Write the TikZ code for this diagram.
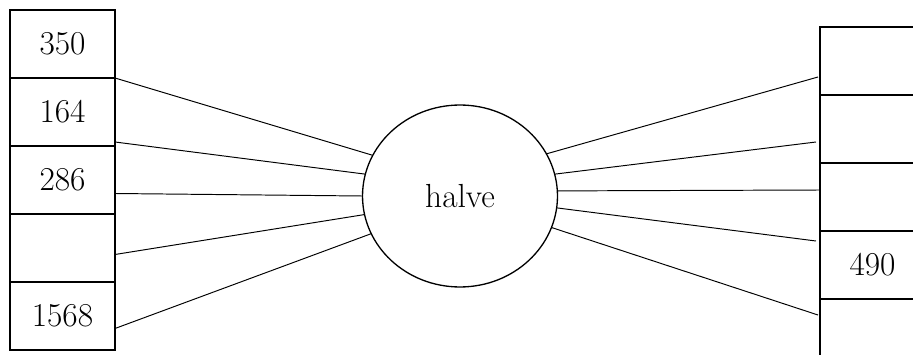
\documentclass[tikz,border=0pt]{standalone}
\usetikzlibrary{shapes.geometric}

\tikzset{
  cell/.style={draw, line width=0.75pt, minimum width=2.1cm, minimum height=1.36cm,
    inner sep=0pt, outer sep=0pt, font=\fontsize{19}{22}\selectfont},
  func/.style={draw, ellipse, line width=0.75pt, minimum width=3.9cm, minimum height=3.64cm,
    inner sep=0pt, outer sep=0pt, font=\fontsize{19}{22}\selectfont},
  wire/.style={line width=0.55pt}
}

\begin{document}
\begin{tikzpicture}[x=0.02cm, y=-0.02cm]
    \useasboundingbox (0,0) rectangle (913,355);
    \clip (0,0) rectangle (913,355);
    % linke Spalte:
    \node[cell] (l1) at (62.5,44) {350};
    \node[cell] (l2) at (62.5,112) {164};
    \node[cell] (l3) at (62.5,180) {286};
    \node[cell] (l4) at (62.5,248) {};
    \node[cell] (l5) at (62.5,316) {1568};
    % Funktion:
    \node[func] (halve) at (460,196) {halve};
    % rechte Spalte:
    \node[cell] (r1) at (872.5,61) {};
    \node[cell] (r2) at (872.5,129) {};
    \node[cell] (r3) at (872.5,197) {};
    \node[cell] (r4) at (872.5,265) {};
    \node[cell] (r5) at (872.5,333) {};
    \node[font=\fontsize{19}{22}\selectfont] (out) at (r4.center) {490};
    % Eingaenge:
\draw[wire] (l1.south east) -- (halve.155);
\draw[wire] ([yshift=0.08cm]l2.south east) -- (halve.167);
\draw[wire] ([yshift=-0.27cm]l3.east) -- (halve.180);
\draw[wire] ([yshift=-0.13cm]l4.east) -- (halve.191);
\draw[wire] ([yshift=-0.25cm]l5.east) -- (halve.203);
    % Ausgaenge:
\draw[wire] (halve.26) -- ([xshift=-0.04cm, yshift=-0.32cm]r1.west);
\draw[wire] (halve.13) -- ([xshift=-0.08cm, yshift=-0.26cm]r2.west);
\draw[wire] (halve.3) -- ([yshift=0.14cm]r3.west);
\draw[wire] (halve.-7) -- ([xshift=-0.08cm, yshift=0.48cm]r4.west);
\draw[wire] (halve.-19) -- ([xshift=-0.04cm, yshift=0.36cm]r5.west);
\end{tikzpicture}
\end{document}
